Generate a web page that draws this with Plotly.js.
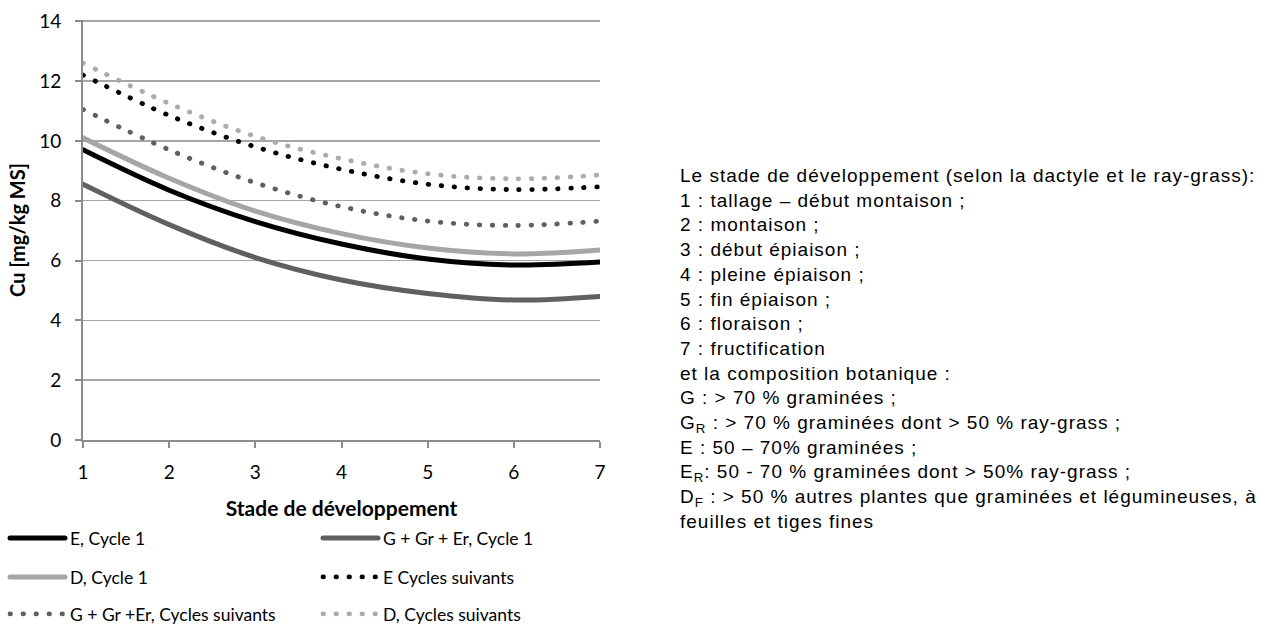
<!DOCTYPE html>
<html>
<head>
<meta charset="utf-8">
<script src="https://cdn.plot.ly/plotly-3.0.1.min.js"></script>
<style>
html,body{margin:0;padding:0;background:#fff;}
#chart{width:1277px;height:626px;}
.annotation-text{letter-spacing:1px;}
</style>
</head>
<body>
<div id="chart"></div>
<script>
const stages = [1, 2, 3, 4, 5, 6, 7];
const eCycle1 = [9.7, 8.35, 7.3, 6.55, 6.05, 5.85, 5.95];
const gCycle1 = [8.55, 7.2, 6.1, 5.35, 4.9, 4.68, 4.8];
const dCycle1 = [10.1, 8.75, 7.65, 6.9, 6.42, 6.22, 6.35];
const eSuivants = [12.2, 10.85, 9.8, 9.05, 8.55, 8.37, 8.47];
const gSuivants = [11.05, 9.7, 8.6, 7.8, 7.32, 7.17, 7.32];
const dSuivants = [12.6, 11.25, 10.15, 9.4, 8.9, 8.73, 8.86];
const seriesNames = ["E, Cycle 1", "G + Gr + Er, Cycle 1", "D, Cycle 1", "E Cycles suivants", "G + Gr +Er, Cycles suivants", "D, Cycles suivants"];
const yTicks = [0, 2, 4, 6, 8, 10, 12, 14];
const xTitle = "Stade de développement";
const yTitle = "Cu [mg/kg MS]";
const noteLines = [
  "Le stade de développement (selon la dactyle et le ray-grass):",
  "1 : tallage – début montaison ;",
  "2 : montaison ;",
  "3 : début épiaison ;",
  "4 : pleine épiaison ;",
  "5 : fin épiaison ;",
  "6 : floraison ;",
  "7 : fructification",
  "et la composition botanique :",
  "G : > 70 % graminées ;",
  "G<sub>R</sub> : > 70 % graminées dont > 50 % ray-grass ;",
  "E : 50 – 70% graminées ;",
  "E<sub>R</sub>: 50 - 70 % graminées dont > 50% ray-grass ;",
  "D<sub>F</sub> : > 50 % autres plantes que graminées et légumineuses, à",
  "feuilles et tiges fines"
];

const dotDash = "0.5px,12.5px";
function tr(y, name, color, width, dash, legend) {
  return {
    x: stages, y: y, name: name, type: "scatter", mode: "lines",
    line: {color: color, width: width, dash: dash, shape: "spline", smoothing: 1},
    legend: legend, hoverinfo: "skip"
  };
}
const data = [
  tr(eCycle1, seriesNames[0], "#000000", 5, "solid", "legend"),
  tr(gCycle1, seriesNames[1], "#606060", 5, "solid", "legend"),
  tr(dCycle1, seriesNames[2], "#a6a6a6", 5, "solid", "legend2"),
  tr(eSuivants, seriesNames[3], "#000000", 4.8, dotDash, "legend2"),
  tr(gSuivants, seriesNames[4], "#5f5f5f", 4.8, dotDash, "legend3"),
  tr(dSuivants, seriesNames[5], "#ababab", 4.8, dotDash, "legend3")
];

const legFont = {family: "Lato, 'Open Sans', sans-serif", size: 17.5, color: "#000"};
function leg(yPix) {
  return {
    orientation: "h", xref: "paper", yref: "container",
    x: (5 - 83) / 517, xanchor: "left", y: 1 - yPix / 626, yanchor: "middle",
    font: legFont, itemwidth: 55, entrywidth: 243, entrywidthmode: "pixels",
    bgcolor: "rgba(0,0,0,0)", traceorder: "normal", itemclick: false, itemdoubleclick: false
  };
}

const layout = {
  width: 1277, height: 626,
  margin: {l: 83, r: 677, t: 20, b: 186},
  paper_bgcolor: "#fff", plot_bgcolor: "#fff",
  font: {family: "Lato, 'Open Sans', sans-serif", color: "#000"},
  showlegend: true,
  legend: leg(538), legend2: leg(577), legend3: leg(614),
  xaxis: {
    range: [1, 7], tickvals: stages, ticks: "outside", ticklen: 6, tickwidth: 2, tickcolor: "#8c8c8c",
    showgrid: false, zeroline: false, showline: true, linecolor: "#8c8c8c", linewidth: 2,
    tickfont: {size: 19, color: "#000"}, ticklabelstandoff: 8,
    title: {text: "<b>" + xTitle + "</b>", font: {size: 21, color: "#000"}, standoff: 23}
  },
  yaxis: {
    range: [0, 14.04], tickvals: yTicks, ticks: "outside", ticklen: 6, tickwidth: 2, tickcolor: "#8c8c8c",
    showgrid: true, gridcolor: "#a6a6a6", gridwidth: 1.5, zeroline: false,
    showline: true, linecolor: "#8c8c8c", linewidth: 2,
    tickfont: {size: 19, color: "#000"}, ticklabelstandoff: 10,
    title: {text: "<b>" + yTitle + "</b>", font: {size: 20, color: "#000"}, standoff: 8}
  },
  annotations: [{
    xref: "paper", yref: "paper", x: (678 - 83) / 517, y: (440 - 163) / 420,
    xanchor: "left", yanchor: "top", align: "left", showarrow: false,
    text: noteLines.join("<br>"),
    font: {family: "'Liberation Sans', Arial, sans-serif", size: 19, color: "#000"}
  }]
};

Plotly.newPlot("chart", data, layout, {displayModeBar: false, staticPlot: true}).then(function () {
  document.querySelectorAll("path.js-line").forEach(function (p) {
    p.style.strokeLinecap = "round";
  });
});
</script>
</body>
</html>
